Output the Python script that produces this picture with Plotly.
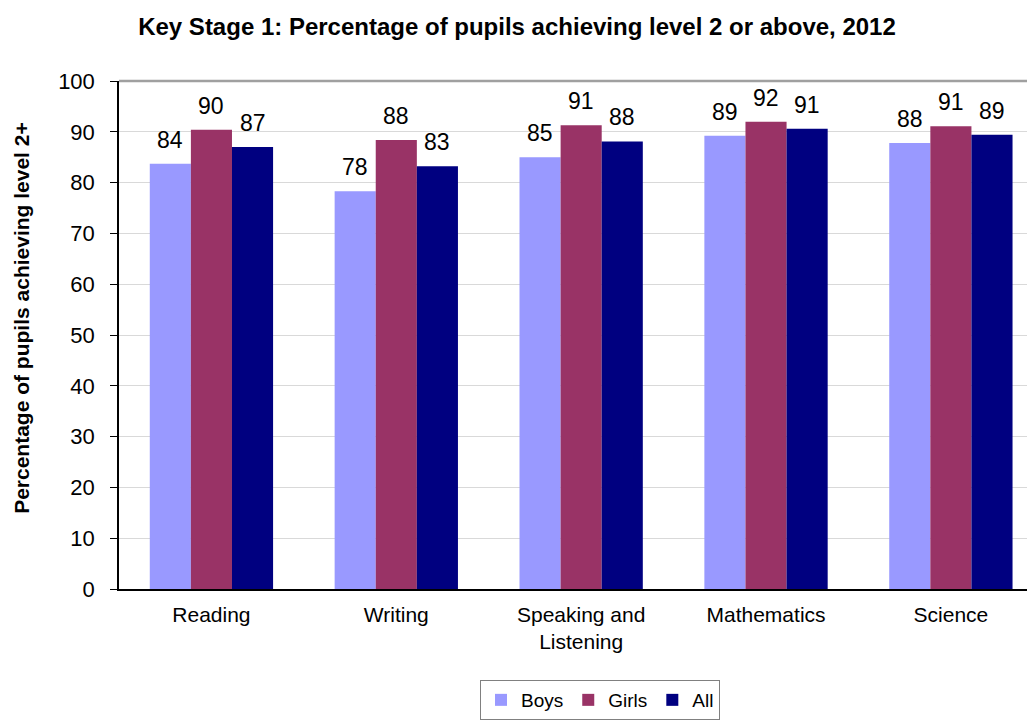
import plotly.graph_objects as go

categories = ["Reading", "Writing", "Speaking and<br>Listening", "Mathematics", "Science"]
boys = [83.7, 78.3, 85.0, 89.2, 87.8]
girls = [90.4, 88.4, 91.3, 92.0, 91.1]
all_pupils = [87.0, 83.2, 88.1, 90.6, 89.4]
y_ticks = [0, 10, 20, 30, 40, 50, 60, 70, 80, 90, 100]

FONT = "Liberation Sans, Arial, sans-serif"
BARGAP = 0.333

# the page body adds an 8px margin, so the figure is 8px smaller
W, H = 1027, 712
PLOT_L, PLOT_T, PLOT_B = 111, 73, 581.3

series = [
    ("Boys", boys, "#9999FF"),
    ("Girls", girls, "#993366"),
    ("All", all_pupils, "#000080"),
]

fig = go.Figure()
annotations = []
n = len(series)
bar_w = (1 - BARGAP) / n
for k, (name, vals, col) in enumerate(series):
    fig.add_trace(go.Bar(
        name=name, x=categories, y=vals,
        marker=dict(color=col, line=dict(width=0)),
    ))
    for i, v in enumerate(vals):
        annotations.append(dict(
            x=i + (k - (n - 1) / 2) * bar_w, y=v, xref="x", yref="y",
            text=f"{round(v)}", showarrow=False,
            xanchor="center", yanchor="bottom", yshift=9,
            font=dict(family=FONT, size=23, color="black"),
        ))

# y-axis title as a rotated annotation
annotations.append(dict(
    text="<b>Percentage of pupils achieving level 2+</b>",
    xref="paper", yref="paper", x=0, y=(PLOT_B - 310) / (PLOT_B - PLOT_T),
    xanchor="center", yanchor="middle", xshift=-(PLOT_L - 14),
    textangle=-90, showarrow=False,
    font=dict(family=FONT, size=21, color="black"),
))

fig.update_layout(
    width=W, height=H,
    margin=dict(l=PLOT_L, r=0, t=PLOT_T, b=H - PLOT_B, autoexpand=False),
    paper_bgcolor="white", plot_bgcolor="white",
    barmode="group", bargap=BARGAP, bargroupgap=0,
    font=dict(family=FONT, size=21, color="black"),
    title=dict(
        text="<b>Key Stage 1: Percentage of pupils achieving level 2 or above, 2012</b>",
        x=(517 - 8) / W, xref="container", xanchor="center",
        y=1 - 19 / H, yref="container", yanchor="middle",
        font=dict(family=FONT, size=24, color="black"),
    ),
    xaxis=dict(
        range=[-0.5, 4.455], showgrid=False, automargin=False,
        showline=True, linecolor="black", linewidth=1.5,
        ticks="", tickfont=dict(family=FONT, size=21, color="black"),
        ticklabelstandoff=6,
    ),
    yaxis=dict(
        range=[0, 100], tickvals=y_ticks, automargin=False,
        showgrid=True, gridcolor="#D9D9D9", gridwidth=1,
        showline=True, linecolor="black", linewidth=1.5,
        ticks="outside", ticklen=7, tickcolor="black",
        tickfont=dict(family=FONT, size=22, color="black"),
        ticklabelstandoff=11,
        zeroline=False,
    ),
    legend=dict(
        orientation="h", x=(600 - 8) / W, xref="container", xanchor="center",
        y=1 - (680 - 8) / H, yref="container", yanchor="top",
        bordercolor="#808080", borderwidth=1,
        font=dict(family=FONT, size=19, color="black"),
        itemwidth=30, tracegroupgap=0,
    ),
    annotations=annotations,
    shapes=[dict(type="line", xref="paper", yref="paper", x0=0, x1=1, y0=1, y1=1,
                 line=dict(color="#A0A0A0", width=2.5), layer="above")],
)

fig.write_html("out.html")
